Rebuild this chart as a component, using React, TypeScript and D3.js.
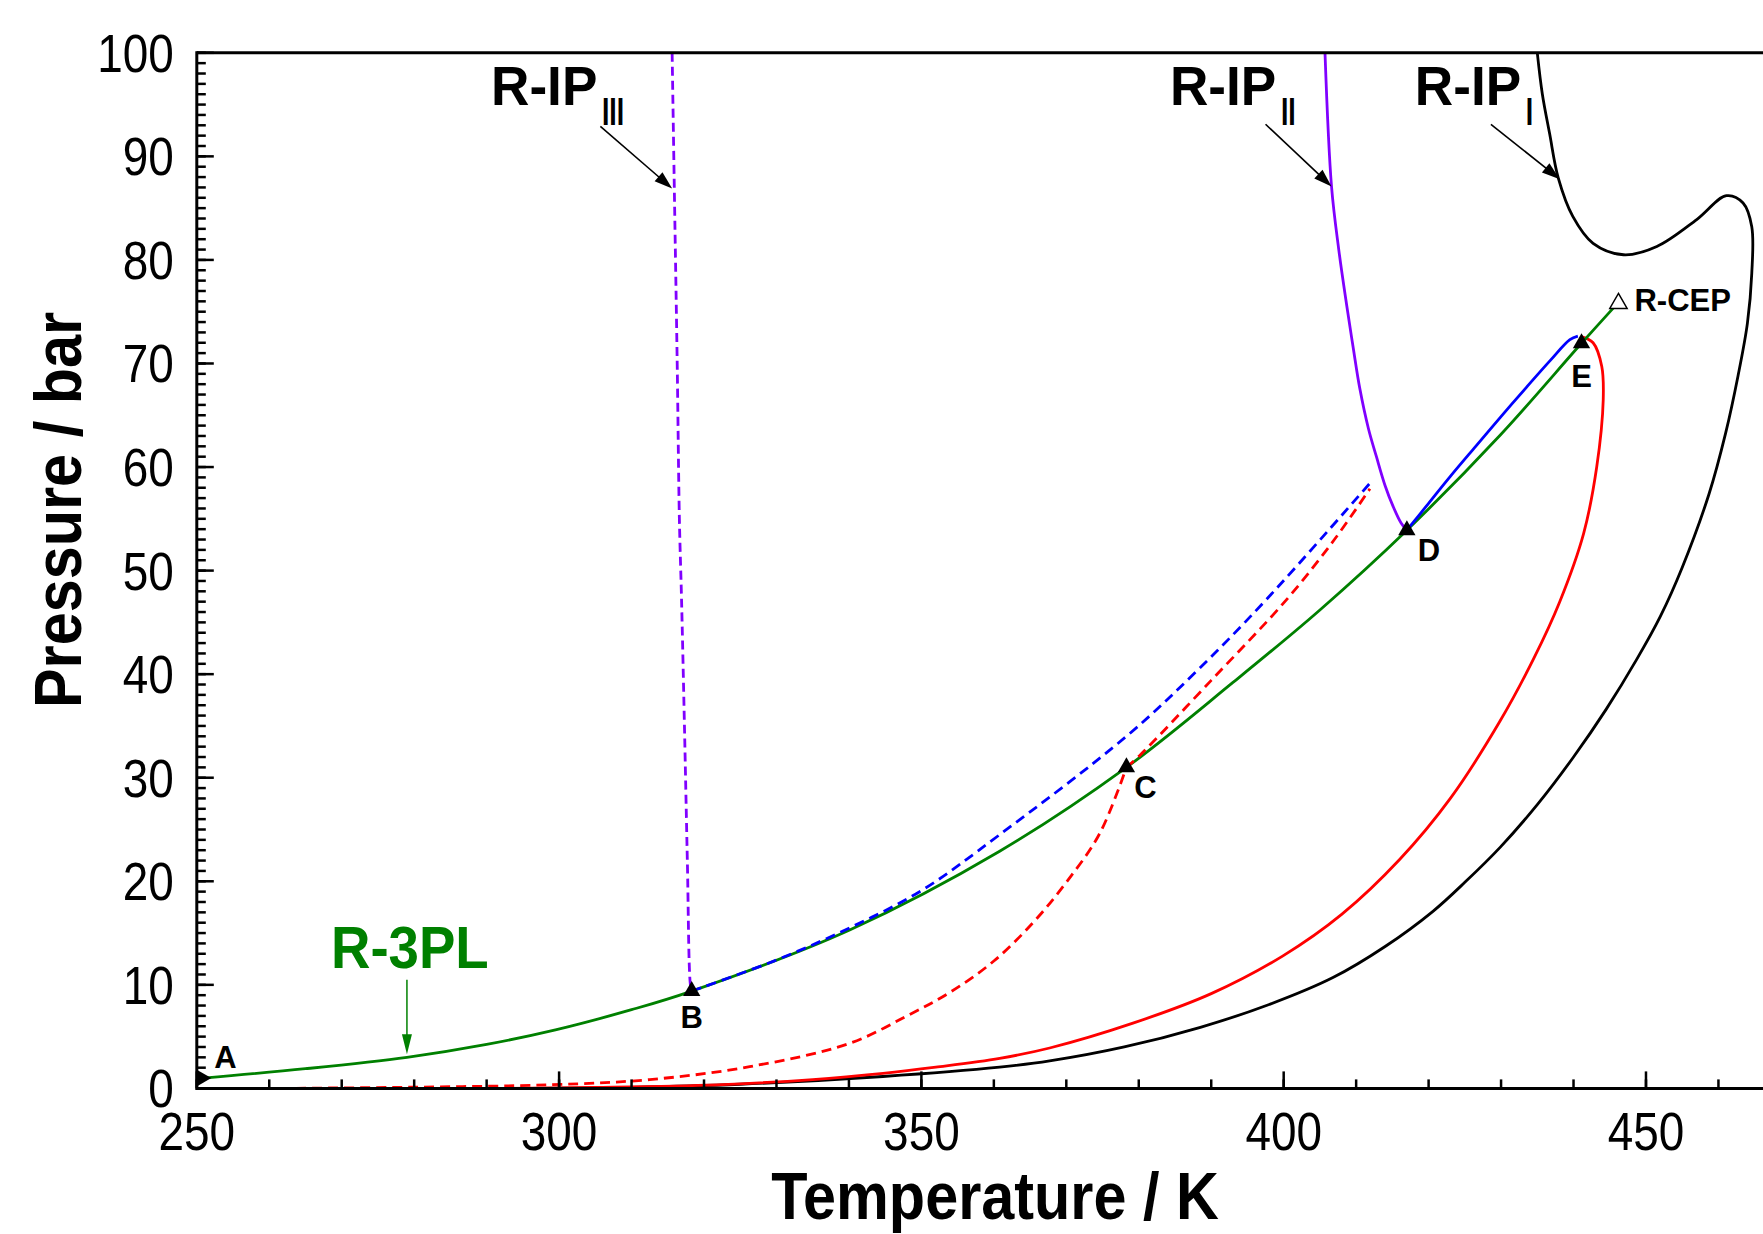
import React from 'react';
import * as d3 from 'd3';

// ---------------- data (T / K, P / bar) ----------------
const xMajorTicks = [250, 300, 350, 400, 450];
const xTickLabels = ['250', '300', '350', '400', '450'];
const yMajorTicks = [0, 10, 20, 30, 40, 50, 60, 70, 80, 90, 100];
const yTickLabels = ['0', '10', '20', '30', '40', '50', '60', '70', '80', '90', '100'];

const green3PL: [number, number][] = [
  [250.9, 1.0], [265, 1.9], [279, 3.0], [290, 4.25], [299.5, 5.65], [310, 7.6], [318.3, 9.4],
  [340.1, 15.3], [360.8, 22.9], [378.3, 31.0], [393, 39.2], [405, 46.2], [417, 53.9],
  [429.9, 63.1], [441.1, 71.95], [446.2, 75.9],
];
const blueDashed: [number, number][] = [
  [318.3, 9.4], [330, 12.4], [340.1, 15.5], [350, 19.1], [360.8, 24.5], [378.3, 34.0],
  [388, 40.3], [397.6, 47.2], [412.1, 58.6],
];
const redDashedLow: [number, number][] = [
  [261.5, 0.0], [280, 0.12], [298.8, 0.35], [312.5, 0.85], [326.3, 2.1], [340.1, 4.35],
  [348, 7.0], [354, 9.3], [360, 12.3], [365.4, 16.0], [370, 19.9], [374.6, 24.6], [378.3, 31.0],
];
const redDashedHigh: [number, number][] = [
  [378.3, 31.0], [380.2, 32.2], [390, 39.4], [400.4, 47.2], [407, 53.0], [411.9, 57.9],
];
const redSolid: [number, number][] = [
  [292, 0.0], [305, 0.1], [321.7, 0.35], [335, 0.85], [344.7, 1.45], [352, 2.05], [360.8, 2.9],
  [367.7, 3.9], [379.2, 6.3], [390, 9.15], [399.9, 12.8], [408, 16.8], [416, 22.1], [423, 28.0],
  [429.8, 35.4], [434.5, 41.5], [438.1, 47.0], [441.4, 53.6], [443.2, 60.0], [444.1, 66.5],
  [443.9, 69.7], [442.7, 72.0], [441.1, 72.6],
];
const blueSolid: [number, number][] = [
  [417, 53.9], [420, 56.5], [423, 59.1], [426.5, 62.0], [429.9, 64.8], [433.5, 67.7],
  [436.8, 70.3], [439.5, 72.3], [440.6, 72.65],
];
const blackIP1: [number, number][] = [
  [296, 0.0], [310, 0.1], [325, 0.4], [344.7, 1.15], [360.8, 2.05], [367.7, 2.65], [378, 4.0],
  [388.5, 5.9], [398, 8.1], [406.8, 10.7], [414, 13.7], [420.6, 17.1], [425, 19.9],
  [429.9, 23.3], [435, 27.4], [440, 32.0], [444.5, 36.6], [448.7, 41.4], [452, 45.6],
  [455, 50.3], [458.7, 57.4], [461, 63.3], [462.7, 68.8], [464.0, 73.9], [464.6, 78.7],
  [464.6, 83.2], [463.4, 85.5], [461.1, 86.2], [457, 83.9], [451.5, 81.3], [446.9, 80.5],
  [442.7, 81.6], [439.9, 84.2], [437.9, 87.9], [436.7, 92.2], [435.7, 96.0], [435, 100],
];
const purpleIP2: [number, number][] = [
  [405.7, 100], [406.6, 87.1], [407.6, 81.0], [408.7, 75.6], [409.6, 71.5], [410.5, 67.6],
  [411.7, 63.7], [412.8, 61.0], [414, 58.2], [415.1, 56.2], [416.2, 54.6], [417, 53.9],
];
const purpleIP3: [number, number][] = [
  [315.6, 100], [315.9, 87], [316.3, 70], [316.6, 55], [316.9, 47.2], [317.3, 35],
  [317.7, 22], [318.1, 10.15], [318.3, 9.4],
];

const keyPointNames = ['A', 'B', 'C', 'D', 'E'];
const keyPointT = [250.9, 318.3, 378.3, 417.0, 441.1];
const keyPointP = [1.0, 9.4, 31.0, 53.9, 71.95];
const cepT = 446.2;
const cepP = 75.8;

const ipLabels = ['III', 'II', 'I'];
const ipTextT = [290.6, 384.3, 418.1];
const ipTextP = [94.96, 94.96, 94.96];
const ipArrowFrom: [number, number][] = [[305.7, 92.9], [397.5, 93.1], [428.6, 93.1]];
const ipArrowTo: [number, number][] = [[315.6, 86.9], [406.6, 87.1], [438.1, 87.8]];

const r3plTextT = 279.4;
const r3plTextP = 11.6;
const r3plArrowFrom: [number, number] = [279, 10.5];
const r3plArrowTo: [number, number] = [279, 3.3];

// ---------------- styling ----------------
const W = 1763;
const H = 1234;
const FONT = "'Liberation Sans', Arial, Helvetica, sans-serif";
const LW = 2.8;
const labelOffsets: Record<string, [number, number]> = {
  A: [22, -10], B: [0, 37], C: [19, 31], D: [22, 31], E: [0, 44],
};

const x = d3.scaleLinear().domain([250, 470]).range([196.8, 1790.9]);
const y = d3.scaleLinear().domain([0, 100]).range([1088.4, 52.8]);
const line = d3
  .line<[number, number]>()
  .x((d) => x(d[0]))
  .y((d) => y(d[1]))
  .curve(d3.curveCatmullRom.alpha(0.5));

function Arrow({ from, to, color, head = 18, half = 6, width = 1.6 }: any) {
  const x1 = x(from[0]), y1 = y(from[1]), x2 = x(to[0]), y2 = y(to[1]);
  const dx = x2 - x1, dy = y2 - y1;
  const len = Math.hypot(dx, dy);
  const ux = dx / len, uy = dy / len;
  const nx = -uy, ny = ux;
  const bx = x2 - ux * head, by = y2 - uy * head;
  const pts = `${x2},${y2} ${bx + nx * half},${by + ny * half} ${bx - nx * half},${by - ny * half}`;
  return (
    <g>
      <line x1={x1} y1={y1} x2={bx + ux * 2} y2={by + uy * 2} stroke={color} strokeWidth={width} />
      <polygon points={pts} fill={color} />
    </g>
  );
}

function CText({ px, py, sx = 1, anchor = 'start', size, weight = 'normal', fill = '#000', rotate = 0, children }: any) {
  return (
    <text
      transform={`translate(${px},${py}) rotate(${rotate}) scale(${sx},1)`}
      textAnchor={anchor}
      fontFamily={FONT}
      fontSize={size}
      fontWeight={weight}
      fill={fill}
    >
      {children}
    </text>
  );
}

export default function App() {
  const x0 = x(250), x1 = x(470), y0 = y(0), y1 = y(100);
  const xMinor = x.ticks(22);
  const yMinor = y.ticks(100);
  const tri = d3.symbol(d3.symbolTriangle, 130)() as string;

  return (
    <svg
      width={W}
      height={H}
      viewBox={`0 0 ${W} ${H}`}
      style={{ position: 'absolute', left: 0, top: 0, background: '#fff' }}
    >
      <defs>
        <clipPath id="plot">
          <rect x={x0} y={y1} width={x1 - x0} height={y0 - y1} />
        </clipPath>
      </defs>
      <rect x={0} y={0} width={W} height={H} fill="#fff" />

      <g clipPath="url(#plot)" fill="none" strokeLinejoin="round">
        <path d={line(blackIP1) as string} stroke="#000" strokeWidth={LW} />
        <path d={line(redSolid) as string} stroke="#ff0000" strokeWidth={LW} />
        <path d={line(green3PL) as string} stroke="#008000" strokeWidth={LW} />
        <path d={line(redDashedLow) as string} stroke="#ff0000" strokeWidth={LW} strokeDasharray="10,6" />
        <path d={line(redDashedHigh) as string} stroke="#ff0000" strokeWidth={LW} strokeDasharray="10,6" />
        <path d={line(blueDashed) as string} stroke="#0000ff" strokeWidth={LW} strokeDasharray="10,6" />
        <path d={line(blueSolid) as string} stroke="#0000ff" strokeWidth={LW} />
        <path d={line(purpleIP2) as string} stroke="#8000ff" strokeWidth={LW} />
        <path d={line(purpleIP3) as string} stroke="#8000ff" strokeWidth={LW} strokeDasharray="9,5" />
      </g>

      {/* axes */}
      <g stroke="#000">
        <line x1={x0} y1={y0} x2={x1} y2={y0} strokeWidth={3} />
        <line x1={x0} y1={y1} x2={x1} y2={y1} strokeWidth={3} />
        <line x1={x0} y1={y0 + 1.5} x2={x0} y2={y1 - 1.5} strokeWidth={3} />
        {xMinor.map((t) => (
          <line key={'xm' + t} x1={x(t)} x2={x(t)} y1={y0} y2={y0 - 9} strokeWidth={2.5} />
        ))}
        {xMajorTicks.map((t) => (
          <line key={'xM' + t} x1={x(t)} x2={x(t)} y1={y0} y2={y0 - 17} strokeWidth={2.5} />
        ))}
        {yMinor.map((t) => (
          <line key={'ym' + t} x1={x0} x2={x0 + 9} y1={y(t)} y2={y(t)} strokeWidth={2.5} />
        ))}
        {yMajorTicks.map((t) => (
          <line key={'yM' + t} x1={x0} x2={x0 + 17} y1={y(t)} y2={y(t)} strokeWidth={2.5} />
        ))}
      </g>
      {xMajorTicks.map((t, i) => (
        <CText key={'xl' + t} px={x(t)} py={y0 + 62} sx={0.85} anchor="middle" size={54}>
          {xTickLabels[i]}
        </CText>
      ))}
      {yMajorTicks.map((t, i) => (
        <CText key={'yl' + t} px={x0 - 23} py={y(t) + 19} sx={0.85} anchor="end" size={54}>
          {yTickLabels[i]}
        </CText>
      ))}

      {/* axis titles */}
      <CText px={995} py={1219} sx={0.9} anchor="middle" size={66} weight="bold">
        Temperature / K
      </CText>
      <CText px={81} py={510} sx={0.9} anchor="middle" size={66} weight="bold" rotate={-90}>
        Pressure / bar
      </CText>

      {/* markers */}
      {keyPointNames.map((n, i) => (
        <path
          key={'m' + n}
          d={tri}
          transform={`translate(${x(keyPointT[i]) + (n === 'A' ? -2 : 0)},${y(keyPointP[i])}) rotate(${n === 'A' ? 90 : 0})`}
          fill="#000"
        />
      ))}
      <path d={tri} transform={`translate(${x(cepT)},${y(cepP)})`} fill="#fff" stroke="#000" strokeWidth={1.5} />

      {keyPointNames.map((n, i) => (
        <CText
          key={'l' + n}
          px={x(keyPointT[i]) + labelOffsets[n][0]}
          py={y(keyPointP[i]) + labelOffsets[n][1]}
          sx={1.0}
          anchor="middle"
          size={31}
          weight="bold"
        >
          {n}
        </CText>
      ))}
      <CText px={x(cepT) + 16} py={y(cepP) + 8} sx={1.0} size={31} weight="bold">
        R-CEP
      </CText>

      {/* R-IP annotations */}
      {ipLabels.map((s, i) => (
        <g key={'ip' + s}>
          <CText px={x(ipTextT[i])} py={y(ipTextP[i])} sx={0.95} size={56} weight="bold">
            R-IP
          </CText>
          <CText px={x(ipTextT[i]) + 111} py={y(ipTextP[i]) + 20} sx={0.7} size={38} weight="bold">
            {s}
          </CText>
          <Arrow from={ipArrowFrom[i]} to={ipArrowTo[i]} color="#000" />
        </g>
      ))}

      {/* R-3PL annotation */}
      <CText px={x(r3plTextT)} py={y(r3plTextP)} sx={0.91} anchor="middle" size={60} weight="bold" fill="#008000">
        R-3PL
      </CText>
      <Arrow from={r3plArrowFrom} to={r3plArrowTo} color="#008000" head={20} half={5} width={1.5} />
    </svg>
  );
}
